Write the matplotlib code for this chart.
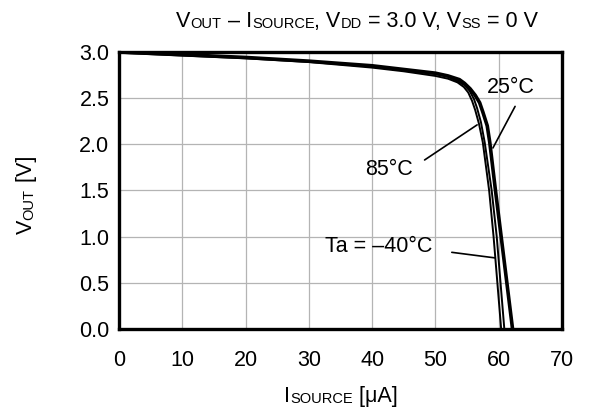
import matplotlib
matplotlib.use('Agg')
import matplotlib.pyplot as plt

plt.rcParams['font.family'] = 'Liberation Sans'

# Ta = 25 degC
i_25 = [0, 10, 20, 30, 40, 45, 50, 52, 53.8, 54.6, 55.5, 56.3, 57.0, 57.5, 58.2, 58.6, 59.5, 60.4, 61.3, 62.2]
v_25 = [3.00, 2.97, 2.94, 2.90, 2.85, 2.81, 2.77, 2.74, 2.70, 2.66, 2.60, 2.53, 2.45, 2.35, 2.20, 2.02, 1.50, 1.00, 0.50, 0.00]

# Ta = 85 degC
i_85 = [0, 10, 20, 30, 40, 45, 50, 52, 53.5, 54.5, 55.2, 55.8, 56.3, 56.9, 57.5, 58.5, 59.2, 59.8, 60.4]
v_85 = [2.99, 2.96, 2.93, 2.89, 2.83, 2.79, 2.74, 2.71, 2.67, 2.62, 2.56, 2.47, 2.37, 2.22, 2.02, 1.50, 1.00, 0.50, 0.00]

# Ta = -40 degC
i_m40 = [0, 10, 20, 30, 40, 45, 50, 52, 53.6, 54.6, 55.4, 56.1, 56.6, 57.2, 57.8, 58.9, 59.7, 60.3, 60.9]
v_m40 = [3.00, 2.97, 2.94, 2.90, 2.84, 2.80, 2.76, 2.73, 2.68, 2.64, 2.58, 2.49, 2.39, 2.24, 2.02, 1.50, 1.00, 0.50, 0.00]

x_ticks = [0, 10, 20, 30, 40, 50, 60, 70]
y_ticks = [0.0, 0.5, 1.0, 1.5, 2.0, 2.5, 3.0]

FS = 15.5
SUB = 0.68

W, H = 589, 412
fig = plt.figure(figsize=(W / 100, H / 100), dpi=100)
ax = fig.add_axes([0.202, 0.2015, 0.752, 0.6725])
rend = fig.canvas.get_renderer()


def text_width(s, size):
    # width of s including spaces at its ends
    a = fig.text(0, 0, 'x' + s + 'x', fontsize=size)
    b = fig.text(0, 0, 'xx', fontsize=size)
    w = a.get_window_extent(rend).width - b.get_window_extent(rend).width
    a.remove()
    b.remove()
    return w


def rich_text(cx, cy, pieces, rotation=0):
    # pieces: (string, is_subscript); cx, cy: centre of baseline in pixels
    sized = [(s, FS * SUB if sub else FS, 1.0 if sub else 0.0) for s, sub in pieces]
    widths = [text_width(s, size) for s, size, _ in sized]
    pos = -sum(widths) / 2
    for (s, size, dy), w in zip(sized, widths):
        if rotation == 0:
            px, py = cx + pos, cy - dy
        else:
            px, py = cx + dy, cy + pos
        fig.text(px / W, py / H, s, fontsize=size, ha='left', va='baseline',
                 rotation=rotation, rotation_mode='anchor')
        pos += w


ax.plot(i_85, v_85, color='black', lw=1.4)
ax.plot(i_m40, v_m40, color='black', lw=1.4)
ax.plot(i_25, v_25, color='black', lw=2.6)

ax.set_xlim(0, 70)
ax.set_ylim(0, 3.0)
ax.set_xticks(x_ticks)
ax.set_yticks(y_ticks)
ax.set_yticklabels([f'{v:.1f}' for v in y_ticks])
ax.tick_params(axis='both', length=0, labelsize=FS)
ax.tick_params(axis='x', pad=15)
ax.tick_params(axis='y', pad=7)
ax.grid(True, color='#b4b4b4', lw=0.9)
ax.set_axisbelow(True)
for sp in ax.spines.values():
    sp.set_linewidth(2.4)

# curve labels with leader lines
lead = dict(arrowstyle='-', color='black', lw=1.2, shrinkA=0, shrinkB=0)
ax.annotate('', xy=(59.1, 1.96), xytext=(62.6, 2.41), arrowprops=lead)
ax.text(61.9, 2.61, '25°C', fontsize=FS, ha='center', va='center')
ax.annotate('', xy=(56.6, 2.21), xytext=(48.3, 1.83), arrowprops=lead)
ax.text(42.7, 1.73, '85°C', fontsize=FS, ha='center', va='center')
ax.annotate('', xy=(59.4, 0.77), xytext=(52.6, 0.83), arrowprops=lead)
ax.text(41.1, 0.89, 'Ta = –40°C', fontsize=FS, ha='center', va='center')

# title and axis labels (baseline positions in pixels from bottom-left)
rich_text(357, H - 27, [('V', False), ('OUT', True), (' – I', False), ('SOURCE', True),
                        (', V', False), ('DD', True), (' = 3.0 V, V', False),
                        ('SS', True), (' = 0 V', False)])
rich_text(341, H - 402, [('I', False), ('SOURCE', True), (' [μA]', False)])
rich_text(32, H - 195, [('V', False), ('OUT', True), (' [V]', False)], rotation=90)

fig.savefig('out.png', dpi=100)
